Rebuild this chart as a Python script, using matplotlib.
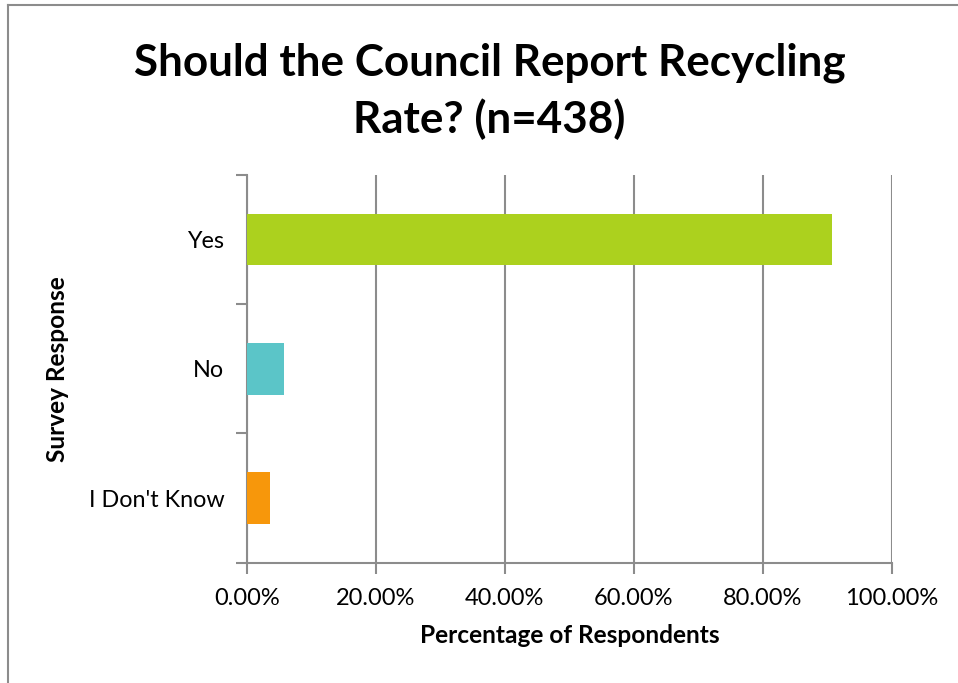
import matplotlib.pyplot as plt
from matplotlib.lines import Line2D
from matplotlib.ticker import FuncFormatter

plt.rcParams['font.family'] = ['Lato', 'DejaVu Sans']

responses = ["Yes", "No", "I Don't Know"]
shares = [90.64, 5.71, 3.65]  # percent of 438 respondents
colors = ["#ACD11E", "#5BC5C8", "#F7970B"]
xticks = [0, 20, 40, 60, 80, 100]

fig = plt.figure(figsize=(9.58, 6.83), dpi=100)
ax = fig.add_axes([0.2575, 0.1761, 0.6736, 0.5677])

# outer chart border (top and left edges visible)
fig.add_artist(Line2D([0.0084, 1.0], [0.9927, 0.9927], color="#8c8c8c", lw=1.5))
fig.add_artist(Line2D([0.0084, 0.0084], [0.0, 0.9927], color="#8c8c8c", lw=1.5))

ypos = list(range(len(responses)))[::-1]
ax.barh(ypos, shares, height=0.4, color=colors, zorder=3)

ax.set_xlim(0, 100)
ax.set_ylim(-0.5, 2.5)
ax.set_xticks(xticks)
ax.xaxis.set_major_formatter(FuncFormatter(lambda v, p: f"{v:.2f}%"))
ax.grid(axis="x", color="#8c8c8c", lw=1.5, zorder=0)

ax.set_yticks(ypos)
ax.set_yticklabels(responses)
ax.set_yticks([-0.5, 0.5, 1.5, 2.5], minor=True)
ax.tick_params(axis="y", which="major", length=0, pad=16, labelsize=16.8)
ax.tick_params(axis="y", which="minor", length=8, width=1.5, color="#8c8c8c")
ax.tick_params(axis="x", length=8, width=1.5, color="#8c8c8c", pad=10, labelsize=17)

for side in ["top", "right"]:
    ax.spines[side].set_visible(False)
for side in ["left", "bottom"]:
    ax.spines[side].set_color("#8c8c8c")
    ax.spines[side].set_linewidth(1.5)

ax.set_xlabel("Percentage of Respondents", fontsize=17.6, fontweight="bold", labelpad=11)
ax.set_ylabel("Survey Response", fontsize=17.6, fontweight="bold", labelpad=14)

fig.text(0.511, 0.866, "Should the Council Report Recycling\nRate? (n=438)",
         ha="center", va="center", fontsize=31.7, fontweight="bold",
         linespacing=1.45)

fig.savefig("out.png", dpi=100)
